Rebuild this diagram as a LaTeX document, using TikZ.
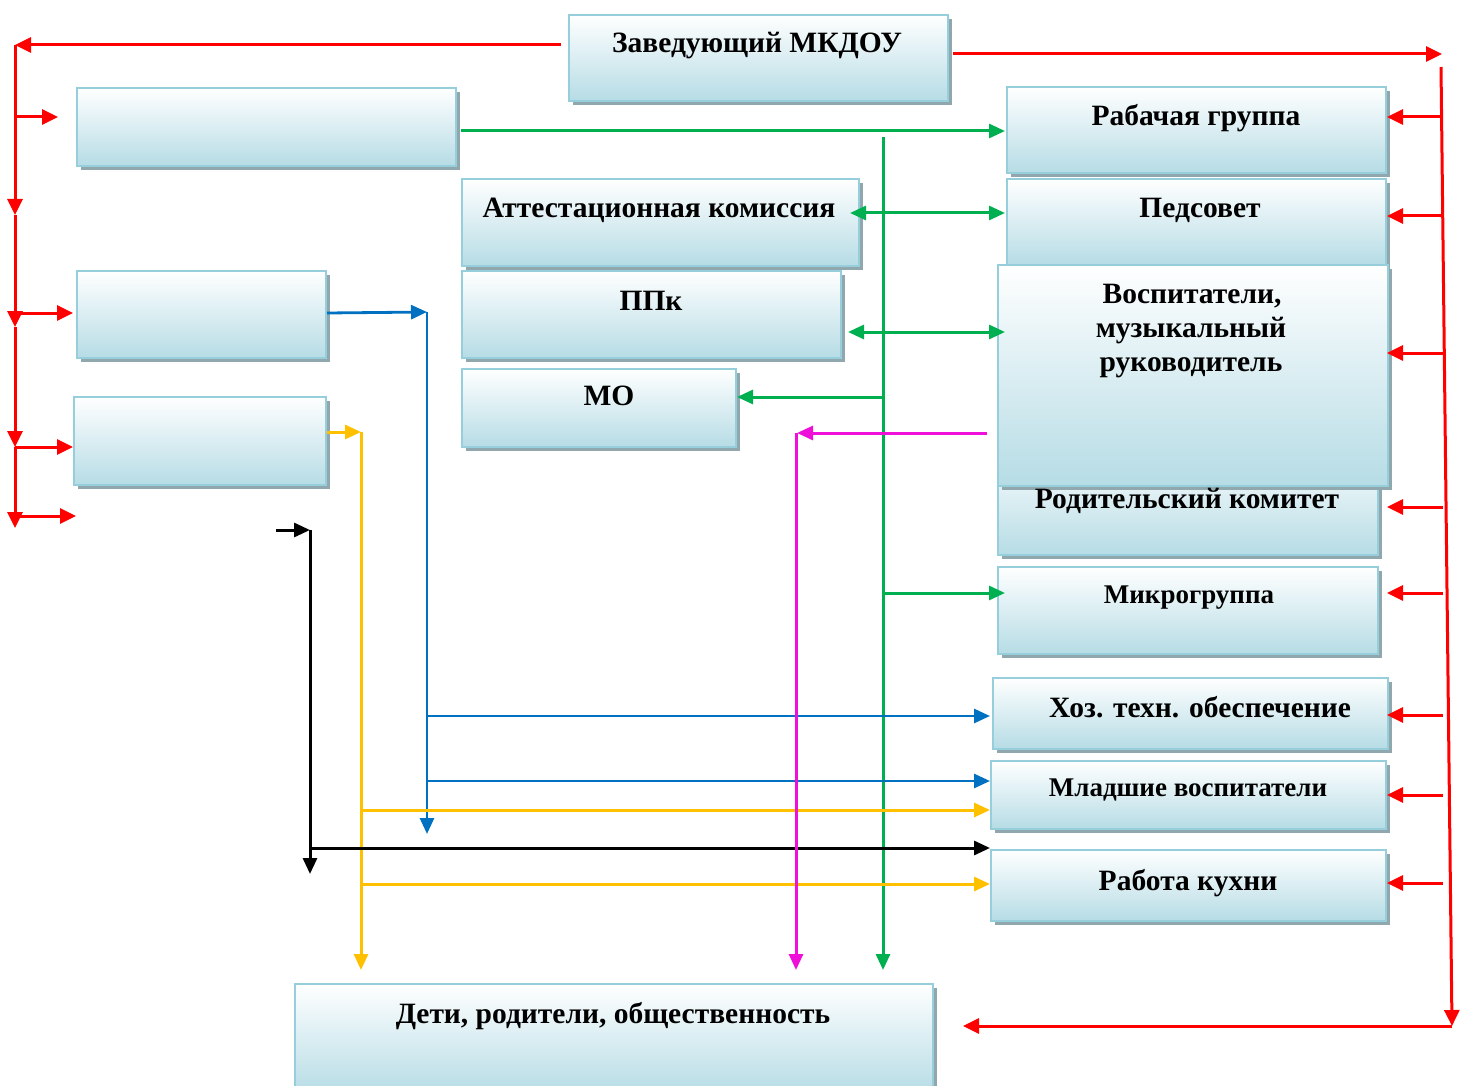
\documentclass[tikz,border=0pt]{standalone}
\usepackage{fontspec}
\setmainfont{Liberation Serif}
\usetikzlibrary{arrows.meta,shadows}
\definecolor{boxline}{HTML}{97CEDC}
\definecolor{boxblue}{HTML}{B6DCE5}
\definecolor{shadowgray}{HTML}{8FA7AD}
\definecolor{cred}{HTML}{FF0000}
\definecolor{cgreen}{HTML}{00B050}
\definecolor{cblue}{HTML}{0070C0}
\definecolor{cyellow}{HTML}{FFC000}
\definecolor{cmag}{HTML}{EE10D8}
\tikzset{
  box/.style={draw=boxline, line width=1.8pt, top color=white, bottom color=boxblue,
    drop shadow={shadow xshift=4pt, shadow yshift=-4pt, fill=shadowgray, opacity=1},
    anchor=north west, inner sep=0pt},
  lbl/.style={anchor=base, inner sep=0pt, font=\fontsize{29.5}{34}\selectfont\bfseries},
  slbl/.style={anchor=base, inner sep=0pt, font=\fontsize{27}{32}\selectfont\bfseries},
  tip/.style={-{Triangle[length=16pt,width=14pt]}},
  rtip/.style={-{Triangle[length=16pt,width=15pt]}},
  btip/.style={{Triangle[length=16pt,width=14pt]}-{Triangle[length=16pt,width=14pt]}},
  redln/.style={draw=cred, line width=3pt},
  grnln/.style={draw=cgreen, line width=3pt},
  bluln/.style={draw=cblue, line width=2.8pt},
  yelln/.style={draw=cyellow, line width=3pt},
  blkln/.style={draw=black, line width=3pt},
  magln/.style={draw=cmag, line width=3pt},
}
\begin{document}
\begin{tikzpicture}[x=1pt,y=-1pt]
\useasboundingbox (0,0) rectangle (1467,1086);
% boxes
\node[box, minimum width=379pt, minimum height=86pt] (zav) at (568,14) {};
\node[box, minimum width=379pt, minimum height=78pt] (ea) at (76,87) {};
\node[box, minimum width=379pt, minimum height=86pt] (rab) at (1006,86) {};
\node[box, minimum width=397pt, minimum height=87pt] (att) at (461,178) {};
\node[box, minimum width=379pt, minimum height=86pt] (ped) at (1006,178) {};
\node[box, minimum width=379pt, minimum height=87pt] (ppk) at (461,270) {};
\node[box, minimum width=249pt, minimum height=87pt] (eb) at (76,270) {};
\node[box, minimum width=380pt, minimum height=110pt] (rod) at (997,444) {};
\node[box, minimum width=390pt, minimum height=221pt] (vos) at (997,264) {};
\node[box, minimum width=274pt, minimum height=78pt] (mo) at (461,368) {};
\node[box, minimum width=252pt, minimum height=88pt] (ec) at (73,396) {};
\node[box, minimum width=380pt, minimum height=87pt] (mik) at (997,566) {};
\node[box, minimum width=395pt, minimum height=71pt] (hoz) at (992,677) {};
\node[box, minimum width=395pt, minimum height=68pt] (mla) at (990,760) {};
\node[box, minimum width=395pt, minimum height=71pt] (kuh) at (990,849) {};
\node[box, minimum width=638pt, minimum height=110pt] (det) at (294,983) {};
% labels
\node[lbl] (zavT) at (757,53) {Заведующий МКДОУ};
\node[lbl] (rabT) at (1196,126) {Рабачая группа};
\node[lbl] (attT) at (659,218) {Аттестационная комиссия};
\node[lbl] (pedT) at (1200,218) {Педсовет};
\node[lbl] (ppkT) at (651,310) {ППк};
\node[lbl] (moT) at (609,405) {МО};
\node[lbl] (vosT1) at (1192,303) {Воспитатели,};
\node[lbl] (vosT2) at (1191,337) {музыкальный};
\node[lbl] (vosT3) at (1191,371) {руководитель};
\node[lbl] (rodT) at (1187,508) {Родительский комитет};
\node[slbl] (mikT) at (1189,603) {Микрогруппа};
\node[lbl] (hozT) at (1200,717) {Хоз. техн. обеспечение};
\node[slbl] (mlaT) at (1188,796) {Младшие воспитатели};
\node[lbl] (kuhT) at (1188,890) {Работа кухни};
\node[lbl] (detT) at (613,1023) {Дети, родители, общественность};
% coordinates
\coordinate (rl0) at (561,45);
\coordinate (rl1) at (15,45);
\coordinate (rl2) at (15,215);
\coordinate (rl3) at (15,327);
\coordinate (rl4) at (15,447);
\coordinate (rl5) at (15,528);
\coordinate (rr0) at (953,54);
\coordinate (rr1) at (1442,54);
\coordinate (rr2) at (1441,67);
\coordinate (rr3) at (1452,1026);
\coordinate (rr4) at (963,1026);
% red left
\draw[redln, rtip] (rl0) -- (rl1);
\draw[redln, rtip] (rl1) -- (rl2);
\draw[redln, rtip] (rl2) -- (rl3);
\draw[redln, rtip] (rl3) -- (rl4);
\draw[redln, rtip] (rl4) -- (rl5);
\draw[redln, rtip] (15,117) -- (58,117);
\draw[redln, rtip] (15,313) -- (73,313);
\draw[redln, rtip] (15,447) -- (73,447);
\draw[redln, rtip] (15,516) -- (76,516);
% red right
\draw[redln, rtip] (rr0) -- (rr1);
\draw[redln, rtip] (rr2) -- (rr3);
\draw[redln, rtip] (rr3) -- (rr4);
\foreach \yy in {117,216,353,507,593,715,795,883}
  \draw[redln, rtip] (1443,\yy) -- (1387,\yy);
% green
\draw[grnln, tip] (461,131) -- (1005,131);
\draw[grnln, tip] (883,137) -- (883,970);
\draw[grnln, btip] (850,213) -- (1005,213);
\draw[grnln, btip] (848,332) -- (1005,332);
\draw[grnln, tip] (883,397) -- (737,397);
\draw[grnln, tip] (883,593) -- (1005,593);
% blue
\draw[bluln, tip] (327,313) -- (427,312);
\draw[bluln, tip] (427,312) -- (427,834);
\draw[bluln, tip] (427,716) -- (990,716);
\draw[bluln, tip] (427,781) -- (990,781);
% yellow
\draw[yelln, tip] (327,432) -- (361,432);
\draw[yelln, tip] (361,432) -- (361,970);
\draw[yelln, tip] (361,810) -- (990,810);
\draw[yelln, tip] (361,884) -- (990,884);
% black
\draw[blkln, tip] (276,530) -- (310,530);
\draw[blkln, tip] (310,530) -- (310,874);
\draw[blkln, tip] (310,848) -- (990,848);
% magenta
\draw[magln, tip] (987,433) -- (797,433);
\draw[magln, tip] (796,433) -- (796,970);
\end{tikzpicture}
\end{document}
